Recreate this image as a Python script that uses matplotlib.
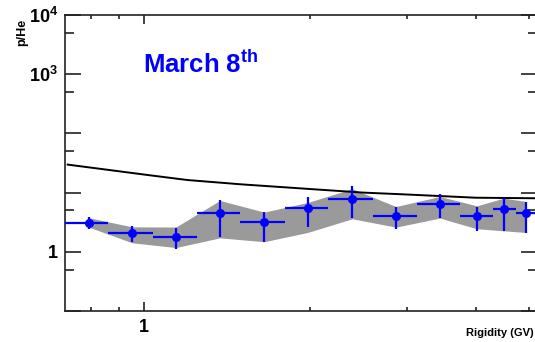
import matplotlib
matplotlib.use("Agg")
import numpy as np
import matplotlib.pyplot as plt
from matplotlib.ticker import FixedLocator, FuncFormatter, NullFormatter

plt.rcParams["font.family"] = ["Liberation Sans", "DejaVu Sans"]
plt.rcParams["mathtext.fontset"] = "custom"
plt.rcParams["mathtext.rm"] = "Liberation Sans:bold"
plt.rcParams["mathtext.bf"] = "Liberation Sans:bold"
plt.rcParams["mathtext.it"] = "Liberation Sans:bold"

# Measured p/He ratio per rigidity bin
rigidity = [0.795, 0.952, 1.143, 1.374, 1.653, 1.982, 2.388, 2.867, 3.445, 4.022, 4.50, 4.94]
bin_low = [0.70, 0.861, 1.037, 1.246, 1.497, 1.80, 2.16, 2.60, 3.125, 3.75, 4.31, 4.74]
bin_high = [0.861, 1.037, 1.246, 1.497, 1.80, 2.16, 2.60, 3.125, 3.75, 4.31, 4.74, 5.3]
ratio = [3.05, 2.07, 1.81, 4.61, 3.13, 5.60, 7.77, 4.06, 6.47, 4.06, 5.26, 4.61]
stat_up = [0.75, 0.68, 0.76, 2.75, 1.55, 2.99, 4.93, 1.63, 3.07, 1.63, 3.00, 2.46]
stat_down = [0.60, 0.61, 0.69, 2.84, 1.67, 2.99, 4.06, 1.61, 2.76, 1.80, 3.00, 2.54]

# Systematic band (lower / upper edge at each bin centre)
sys_low = [2.60, 1.42, 1.18, 1.72, 1.48, 2.12, 3.61, 2.61, 3.71, 2.45, 2.26, 2.12]
sys_high = [3.75, 2.64, 2.62, 7.36, 4.68, 6.80, 11.6, 5.82, 8.59, 5.98, 8.07, 7.07]

# Reference model curve
model_rigidity = [0.727, 0.85, 1.0, 1.2, 1.5, 2.0, 2.5, 3.0, 4.0, 5.3]
model_ratio = [29.7, 24.6, 20.2, 16.3, 13.8, 11.5, 10.0, 9.29, 8.20, 8.0]

W, H = 535, 342
fig = plt.figure(figsize=(W / 100, H / 100), dpi=100)
left, right, top, bottom = 65, 537, 15, 311
ax = fig.add_axes([left / W, 1 - bottom / H, (right - left) / W, (bottom - top) / H])
ax.set_xscale("log")
ax.set_yscale("log")
ax.set_xlim(0.719, 5.17)
ax.set_ylim(0.1, 1e4)

r = np.array(rigidity)
ax.fill_between(rigidity, sys_low, sys_high, color="#9a9a9a", lw=0, zorder=1)
ax.plot(model_rigidity, model_ratio, color="black", lw=1.4, zorder=2)
ax.errorbar(rigidity, ratio,
            xerr=[r - np.array(bin_low), np.array(bin_high) - r],
            yerr=[stat_down, stat_up],
            fmt="o", color="#0000ff", ms=5.5, elinewidth=1.6, capsize=0, zorder=3)

for s in ax.spines.values():
    s.set_linewidth(1.2)
    s.set_color("#222222")

ax.xaxis.set_major_locator(FixedLocator([1]))
ax.xaxis.set_minor_locator(FixedLocator([0.8, 0.9, 2, 3, 4, 5]))
ax.xaxis.set_major_formatter(FuncFormatter(lambda v, p: "1"))
ax.xaxis.set_minor_formatter(NullFormatter())

ydec = [0.1, 1, 10, 100, 1e3, 1e4]
ax.yaxis.set_major_locator(FixedLocator(ydec))
ax.yaxis.set_minor_locator(FixedLocator([0.5, 5, 50, 500, 5000]))
ylabels = {1: "1", 1000: r"$10^{3}$", 10000: r"$10^{4}$"}
ax.yaxis.set_major_formatter(FuncFormatter(lambda v, p: ylabels.get(int(round(v)) if v >= 1 else -1, "")))
ax.yaxis.set_minor_formatter(NullFormatter())

ax.tick_params(axis="x", which="both", direction="in", top=True, bottom=True, width=1.2, color="#222222")
ax.tick_params(axis="x", which="major", length=6.5, pad=6, labelsize=13)
ax.tick_params(axis="x", which="minor", length=3)
ax.tick_params(axis="y", which="both", direction="in", left=True, right=True, width=1.2, color="#222222")
ax.tick_params(axis="y", which="major", length=11.5, pad=5, labelsize=13)
ax.tick_params(axis="y", which="minor", length=6.5)
for lab in ax.get_xticklabels() + ax.get_yticklabels():
    lab.set_fontweight("bold")

fig.text(22 / W, 1 - 32 / H, "p/He", rotation=90, ha="center", va="center",
         fontsize=9, fontweight="bold")
fig.text(534 / W, 1 - 333 / H, "Rigidity (GV)", ha="right", va="center",
         fontsize=8, fontweight="bold")
fig.text(143 / W, 1 - 73 / H, r"March 8$^{\mathbf{th}}$", ha="left", va="baseline",
         fontsize=18.5, fontweight="bold", color="#0000ff")

fig.savefig("out.png", dpi=100)
